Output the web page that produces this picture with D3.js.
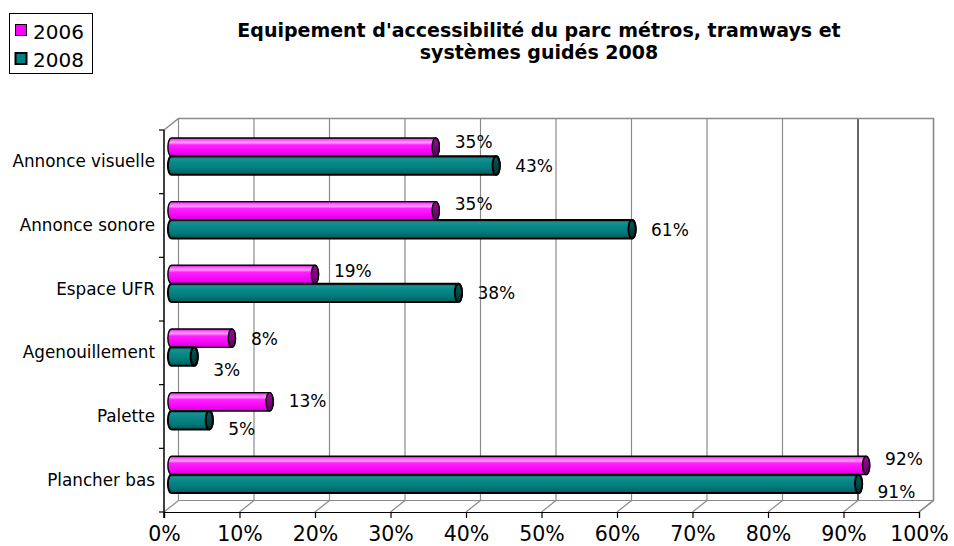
<!DOCTYPE html>
<html>
<head>
<meta charset="utf-8">
<script src="https://cdn.jsdelivr.net/npm/d3@7"></script>
<style>
  html, body { margin: 0; padding: 0; background: #fff; }
  svg { display: block; }
  text { font-family: "DejaVu Sans", Verdana, sans-serif; fill: #000; }
</style>
</head>
<body>
<svg id="chart" width="954" height="546"></svg>
<script>
// ---- data ----
const categories = ["Annonce visuelle", "Annonce sonore", "Espace UFR", "Agenouillement", "Palette", "Plancher bas"];
const seriesNames = ["2006", "2008"];
const values2006 = [0.35, 0.35, 0.19, 0.08, 0.13, 0.92];
const values2008 = [0.43, 0.61, 0.38, 0.03, 0.05, 0.91];
const xTicks = [0, 0.1, 0.2, 0.3, 0.4, 0.5, 0.6, 0.7, 0.8, 0.9, 1.0];
const titleLines = ["Equipement d'accessibilité du parc métros, tramways et", "systèmes guidés 2008"];

// ---- layout ----
const plot = { left: 164, right: 919, top: 130, bottom: 512 };
const depth = { dx: 14.5, dy: -11.5 };          // back wall offset
const barShift = { dx: 7.5, dy: -5.5 };          // bars sit mid-depth
const capRx = 3.6;
const labelDx = 19;
const labelDy2006 = [-5, -7, -4, 1, -1, -7];
const labelDy2008 = [0, 1, 0, 13, 9, 8];

const svg = d3.select("#chart");

const x = d3.scaleLinear().domain([0, 1]).range([plot.left, plot.right]);
const xBar = d3.scaleLinear().domain([0, 1]).range([plot.left + barShift.dx, plot.right + barShift.dx]);
const y = d3.scaleBand().domain(categories).range([plot.top, plot.bottom]).padding(0);
const ySeries = d3.scaleBand().domain(seriesNames).range([-18.4, 18.4]).padding(0);

// ---- gradients ----
const defs = svg.append("defs");
function vGrad(id, stops) {
  const g = defs.append("linearGradient").attr("id", id)
    .attr("x1", 0).attr("y1", 0).attr("x2", 0).attr("y2", 1);
  stops.forEach(([o, c]) => g.append("stop").attr("offset", o).attr("stop-color", c));
}
vGrad("g2006", [[0, "#d800d8"], [0.12, "#ff60ff"], [0.25, "#ff9cff"], [0.38, "#ff20ff"], [0.8, "#f500f5"], [1, "#c400c4"]]);
vGrad("g2008", [[0, "#006262"], [0.15, "#1b9090"], [0.3, "#0a8a8a"], [0.7, "#007a7a"], [1, "#005858"]]);
vGrad("c2006", [[0, "#9a109a"], [0.5, "#800080"], [1, "#5c005c"]]);
vGrad("c2008", [[0, "#0a5a5a"], [0.5, "#004848"], [1, "#003434"]]);

// ---- back wall, floor and gridlines ----
const grid = svg.append("g");
const backL = plot.left + depth.dx, backR = plot.right + depth.dx;
const backT = plot.top + depth.dy, backB = plot.bottom + depth.dy;

grid.selectAll("line.vgrid").data(xTicks).join("line")
  .attr("class", "vgrid")
  .attr("x1", d => x(d) + depth.dx).attr("x2", d => x(d) + depth.dx)
  .attr("y1", backT).attr("y2", backB)
  .attr("stroke", d => Math.abs(d - 0.9) < 1e-9 ? "#000" : "#8a8a8a")
  .attr("stroke-width", 1.2);

grid.selectAll("line.floor").data(xTicks).join("line")
  .attr("class", "floor")
  .attr("x1", d => x(d)).attr("y1", plot.bottom)
  .attr("x2", d => x(d) + depth.dx).attr("y2", backB)
  .attr("stroke", "#8a8a8a").attr("stroke-width", 1.2);

grid.append("path")
  .attr("d", `M${plot.left},${plot.top} L${backL},${backT} L${backR},${backT} L${backR},${backB} L${plot.right},${plot.bottom}`)
  .attr("fill", "none").attr("stroke", "#8a8a8a").attr("stroke-width", 1.5);
grid.append("line")
  .attr("x1", backL).attr("x2", backR).attr("y1", backB).attr("y2", backB)
  .attr("stroke", "#8a8a8a").attr("stroke-width", 1.2);

// ---- axes ----
const xAxis = svg.append("g")
  .attr("transform", `translate(0,${plot.bottom})`)
  .call(d3.axisBottom(x).tickValues(xTicks).tickFormat(d3.format(".0%")).tickSize(6).tickPadding(8));
xAxis.select(".domain").attr("stroke", "#000").attr("stroke-width", 1.2);
xAxis.selectAll(".tick line").attr("stroke", "#000").attr("stroke-width", 1.2);
xAxis.selectAll("text").attr("font-size", 20.5).attr("font-family", "DejaVu Sans, Verdana, sans-serif").attr("fill", "#000");

const yAxis = svg.append("g")
  .attr("transform", `translate(${plot.left},0)`)
  .call(d3.axisLeft(y).tickSize(0).tickPadding(9));
yAxis.select(".domain").remove();
yAxis.selectAll("text").attr("font-size", 16.8).attr("font-family", "DejaVu Sans, Verdana, sans-serif").attr("fill", "#000");

// category boundary ticks
const bounds = categories.map(c => y(c)).concat([plot.bottom]);
svg.append("g").selectAll("line").data(bounds).join("line")
  .attr("x1", plot.left - 5).attr("x2", plot.left)
  .attr("y1", d => d).attr("y2", d => d)
  .attr("stroke", "#000").attr("stroke-width", 1.2);
svg.append("line")
  .attr("x1", plot.left).attr("x2", plot.left)
  .attr("y1", plot.top).attr("y2", plot.bottom + 6)
  .attr("stroke", "#000").attr("stroke-width", 1.5);

// ---- cylinders ----
const barData = [];
categories.forEach((c, i) => {
  barData.push({ cat: c, series: "2006", v: values2006[i], dy: labelDy2006[i] });
  barData.push({ cat: c, series: "2008", v: values2008[i], dy: labelDy2008[i] });
});

function barGeom(d) {
  const cy = y(d.cat) + y.bandwidth() / 2 + barShift.dy;
  const yt = cy + ySeries(d.series);
  const yb = yt + ySeries.bandwidth();
  return { x0: xBar(0), x1: xBar(d.v), yt, yb, ym: (yt + yb) / 2, ry: (yb - yt) / 2 };
}

const bars = svg.append("g").selectAll("g").data(barData).join("g");
bars.append("path")
  .attr("d", d => {
    const g = barGeom(d);
    return `M${g.x0},${g.yt} L${g.x1},${g.yt} A${capRx},${g.ry} 0 0 1 ${g.x1},${g.yb} L${g.x0},${g.yb} A${capRx},${g.ry} 0 0 1 ${g.x0},${g.yt} Z`;
  })
  .attr("fill", d => `url(#g${d.series})`)
  .attr("stroke", "#000").attr("stroke-width", d => d.series === "2008" ? 2 : 1.4)
  .attr("stroke-linejoin", "round");
bars.append("ellipse")
  .attr("cx", d => barGeom(d).x1)
  .attr("cy", d => barGeom(d).ym)
  .attr("rx", capRx)
  .attr("ry", d => barGeom(d).ry)
  .attr("fill", d => `url(#c${d.series})`)
  .attr("stroke", "#000").attr("stroke-width", d => d.series === "2008" ? 2 : 1.4);

// value labels
svg.append("g").selectAll("text").data(barData).join("text")
  .attr("x", d => barGeom(d).x1 + labelDx)
  .attr("y", d => barGeom(d).ym + d.dy)
  .attr("dy", "0.36em")
  .attr("font-size", 17)
  .text(d => d3.format(".0%")(d.v));

// ---- title ----
svg.append("g").selectAll("text").data(titleLines).join("text")
  .attr("x", 539)
  .attr("y", (d, i) => 37 + i * 21.5)
  .attr("text-anchor", "middle")
  .attr("font-size", 19)
  .attr("font-weight", "bold")
  .text(d => d);

// ---- legend ----
const legend = svg.append("g");
legend.append("rect")
  .attr("x", 9.5).attr("y", 13.5).attr("width", 83).attr("height", 60)
  .attr("fill", "#fff").attr("stroke", "#000").attr("stroke-width", 1);
const legendColors = { "2006": "#ff00ff", "2008": "#008080" };
const li = legend.selectAll("g.item").data(seriesNames).join("g")
  .attr("class", "item")
  .attr("transform", (d, i) => `translate(0,${i * 28.5})`);
li.append("rect")
  .attr("x", 15.5).attr("y", 24.5).attr("width", 11).attr("height", 11)
  .attr("fill", d => legendColors[d])
  .attr("stroke", "#000").attr("stroke-width", d => d === "2008" ? 2 : 1);
li.append("text")
  .attr("x", 33).attr("y", 38.5)
  .attr("font-size", 20)
  .text(d => d);
</script>
</body>
</html>
